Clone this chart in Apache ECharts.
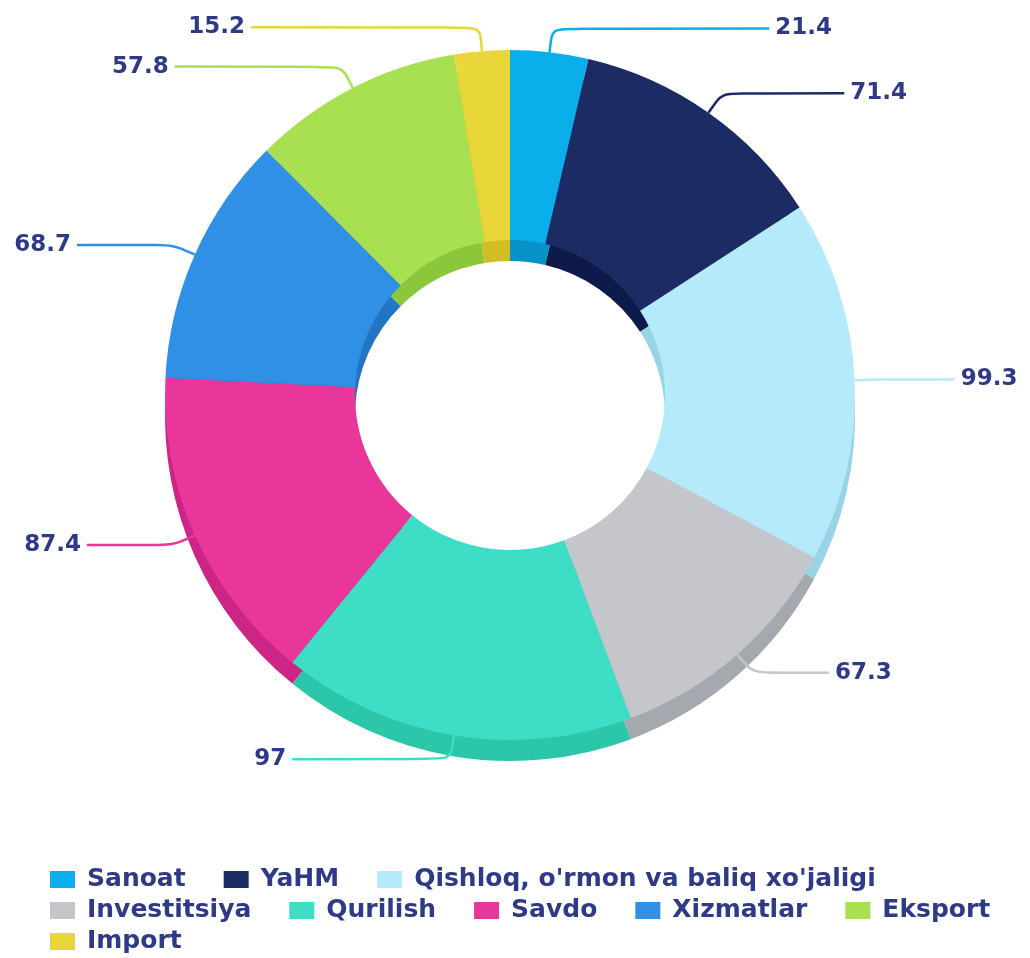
<!DOCTYPE html>
<html>
<head>
<meta charset="utf-8">
<script src="https://cdn.jsdelivr.net/npm/echarts@6/dist/echarts.min.js"></script>
<style>
html,body{margin:0;padding:0;background:#fff;}
#chart{width:1030px;height:958px;}
</style>
</head>
<body>
<div id="chart"></div>
<script>
const categories = ["Sanoat", "YaHM", "Qishloq, o'rmon va baliq xo'jaligi", "Investitsiya", "Qurilish", "Savdo", "Xizmatlar", "Eksport", "Import"];
const values = [21.4, 71.4, 99.3, 67.3, 97, 87.4, 68.7, 57.8, 15.2];
const topColors = ["#0AAEEB", "#1C2B64", "#B5EAFB", "#C4C6CC", "#3DDEC5", "#E8369A", "#2F90E5", "#A8E052", "#E9D73A"];
const sideColors = ["#0893C8", "#0E1A4A", "#98D3E6", "#A6A8AF", "#2CC6AB", "#CC2585", "#2275C4", "#8CC63A", "#CFBF24"];
// horizontal leader-line segment for each label (style only)
const leaderTail = [217, 122, 76, 76, 158, 86, 96, 167, 229];

const textColor = "#2E3A87";
const font = "DejaVu Sans";

const chart = echarts.init(document.getElementById('chart'), null, {renderer: 'canvas'});

const topData = categories.map((n, i) => ({
  name: n, value: values[i],
  itemStyle: {color: topColors[i]},
  labelLine: {length2: leaderTail[i]}
}));
const sideData = categories.map((n, i) => ({name: n, value: values[i], itemStyle: {color: sideColors[i]}}));

const option = {
  backgroundColor: '#ffffff',
  animation: false,
  legend: {
    data: categories,
    icon: 'rect',
    left: 50,
    top: 866,
    width: 990,
    itemWidth: 25,
    itemHeight: 17,
    itemGap: 4,
    padding: 0,
    selectedMode: false,
    textStyle: {
      color: textColor,
      fontFamily: font,
      fontWeight: 'bold',
      fontSize: 25,
      lineHeight: 27,
      padding: [0, 34, 0, 7]
    }
  },
  series: [
    {
      type: 'pie',
      name: 'top',
      z: 3,
      center: [510, 395],
      radius: [155, 345],
      startAngle: 90,
      clockwise: true,
      silent: true,
      avoidLabelOverlap: false,
      itemStyle: {borderWidth: 0},
      label: {
        show: true,
        formatter: '{c}',
        color: textColor,
        fontFamily: font,
        fontWeight: 'bold',
        fontSize: 23,
        distanceToLabelLine: 6
      },
      labelLine: {
        show: true,
        length: 24,
        length2: 60,
        smooth: 0.25,
        lineStyle: {width: 2.5}
      },
      emphasis: {disabled: true},
      data: topData
    },
    {
      type: 'pie',
      name: 'side',
      z: 1,
      center: [510, 416],
      radius: [155, 345],
      startAngle: 90,
      clockwise: true,
      silent: true,
      itemStyle: {borderWidth: 0},
      label: {show: false},
      labelLine: {show: false},
      emphasis: {disabled: true},
      data: sideData
    }
  ]
};
chart.setOption(option);
</script>
</body>
</html>
